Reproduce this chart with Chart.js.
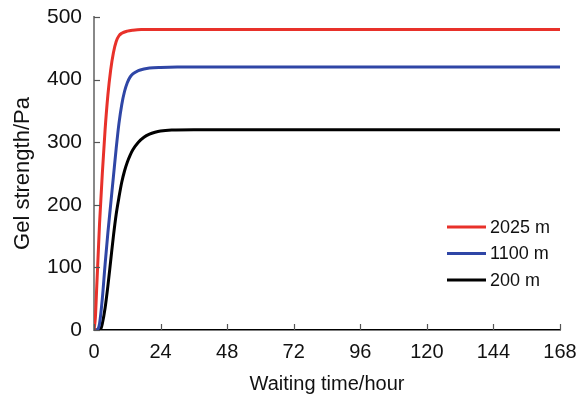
<!DOCTYPE html>
<html>
<head>
<meta charset="utf-8">
<script src="https://cdn.jsdelivr.net/npm/chart.js@4.4.1/dist/chart.umd.min.js"></script>
<style>
  html, body { margin: 0; padding: 0; background: #fff; }
  #wrap { width: 587px; height: 400px; }
</style>
</head>
<body>
<div id="wrap"><canvas id="gelChart" width="587" height="400"></canvas></div>
<script>
(function(){
  // values
  const seriesLabels = ['2025 m', '1100 m', '200 m'];
  const hours2025 = [0, 0.5, 1, 1.5, 2, 3, 4, 5, 6, 7, 8, 9, 10, 12, 14, 17, 168];
  const gel2025   = [0, 20, 70, 120, 170, 250, 320, 375, 415, 443, 461, 470, 474, 477.5, 479, 480, 480];
  const hours1100 = [0, 1, 1.5, 2, 3, 4, 5, 6, 7, 8, 9, 10, 11, 12, 13, 14, 16, 18, 20, 24, 30, 168];
  const gel1100   = [0, 0, 2, 10, 50, 105, 155, 200, 245, 290, 330, 360, 381, 395, 404, 409, 414.5, 417, 418.5, 419.5, 420, 420];
  const hours200  = [0, 2, 2.5, 3, 4, 5, 6, 7, 8, 9, 10, 11, 12, 13, 14, 16, 18, 20, 22, 24, 28, 36, 168];
  const gel200    = [0, 0, 2, 10, 35, 70, 110, 150, 185, 212, 236, 254, 268, 279, 288, 300, 308, 313, 316, 318, 319.5, 320, 320];
  const xTicks = [0, 24, 48, 72, 96, 120, 144, 168];
  const yTicks = [0, 100, 200, 300, 400, 500];

  const colors = ['#e8312a', '#2f46a6', '#000000'];
  const toPts = (xs, ys) => xs.map((x, i) => ({x: x, y: ys[i]}));

  // ticks pointing into the plot, and the legend in the lower right
  const inwardTicks = {
    id: 'inwardTicks',
    afterDatasetsDraw(chart) {
      const ctx = chart.ctx, a = chart.chartArea;
      const xs = chart.scales.x, ys = chart.scales.y;
      ctx.save();
      ctx.lineWidth = 1.2;
      ctx.strokeStyle = '#555';
      xTicks.forEach(v => {
        const px = Math.round(xs.getPixelForValue(v)) + 0.5;
        ctx.beginPath(); ctx.moveTo(px, a.bottom); ctx.lineTo(px, a.bottom - 6); ctx.stroke();
      });
      yTicks.forEach(v => {
        const py = Math.round(ys.getPixelForValue(v)) + 0.5;
        ctx.beginPath(); ctx.moveTo(a.left, py); ctx.lineTo(a.left + 6, py); ctx.stroke();
      });
      // legend
      ctx.font = '18px "Liberation Sans", Arial, sans-serif';
      ctx.textBaseline = 'middle';
      ctx.fillStyle = '#111';
      seriesLabels.forEach((lab, i) => {
        const y = 227 + i * 26.5;
        ctx.strokeStyle = colors[i];
        ctx.lineWidth = 3;
        ctx.beginPath(); ctx.moveTo(447, y); ctx.lineTo(486, y); ctx.stroke();
        ctx.fillText(lab, 490, y + 1);
      });
      ctx.restore();
    }
  };

  const family = '"Liberation Sans", Arial, sans-serif';
  const ctx = document.getElementById('gelChart').getContext('2d');
  new Chart(ctx, {
    type: 'line',
    data: {
      datasets: [
        { label: seriesLabels[0], data: toPts(hours2025, gel2025), borderColor: colors[0] },
        { label: seriesLabels[1], data: toPts(hours1100, gel1100), borderColor: colors[1] },
        { label: seriesLabels[2], data: toPts(hours200, gel200), borderColor: colors[2] }
      ]
    },
    options: {
      responsive: false,
      animation: false,
      layout: { padding: { top: 17, right: 27, left: 0, bottom: 0 } },
      elements: {
        point: { radius: 0 },
        line: { borderWidth: 3, cubicInterpolationMode: 'monotone', fill: false }
      },
      plugins: { legend: { display: false }, tooltip: { enabled: false } },
      scales: {
        x: {
          type: 'linear', min: 0, max: 168,
          afterBuildTicks: s => { s.ticks = xTicks.map(v => ({value: v})); },
          afterFit: s => { s.height = 70; s.paddingLeft = 0; s.paddingRight = 0; },
          grid: { display: true, drawOnChartArea: false, drawTicks: false },
          border: { color: '#000', width: 1.5 },
          ticks: { font: { family: family, size: 20 }, color: '#111', padding: 10, maxRotation: 0 },
          title: { display: true, text: 'Waiting time/hour', font: { family: family, size: 20 }, color: '#111', padding: { top: 4 } }
        },
        y: {
          min: 0, max: 500,
          afterBuildTicks: s => { s.ticks = yTicks.map(v => ({value: v})); },
          afterFit: s => { s.width = 94; s.paddingTop = 0; s.paddingBottom = 0; },
          grid: { display: true, drawOnChartArea: false, drawTicks: false },
          border: { color: '#888', width: 2 },
          ticks: { font: { family: family, size: 21 }, color: '#111', padding: 12 },
          title: { display: true, text: 'Gel strength/Pa', font: { family: family, size: 22 }, color: '#111', padding: { top: 10, bottom: 4 } }
        }
      }
    },
    plugins: [inwardTicks]
  });
})();
</script>
</body>
</html>
